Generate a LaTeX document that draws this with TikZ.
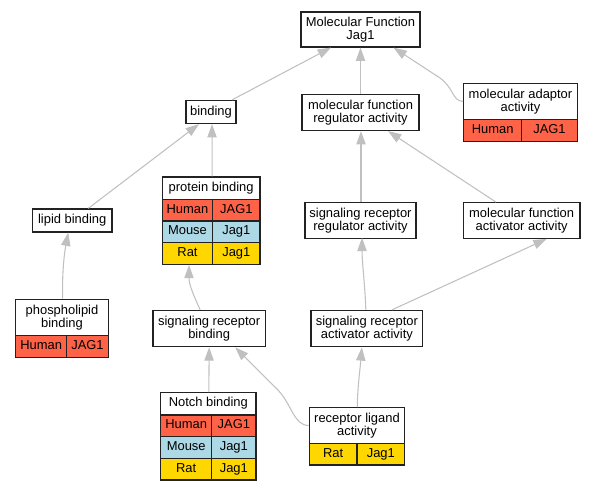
\documentclass[tikz,border=0pt]{standalone}
\usepackage{fontspec}
\setmainfont{Liberation Sans}
\usetikzlibrary{arrows.meta,calc}
\definecolor{hum}{HTML}{FF6347}
\definecolor{mou}{HTML}{ADD8E6}
\definecolor{rat}{HTML}{FFD700}
\definecolor{edgegray}{HTML}{C0C0C0}
\definecolor{bordc}{HTML}{222222}
\newcommand{\bx}[7]{\node[#6, minimum width={(#4-#2)*0.75pt}, minimum height={(#5-#3)*0.75pt}] (#1) at ({(#2+#4)/2},{(#3+#5)/2}) {#7};}
\tikzset{
  box/.style={draw=bordc, line width=0.9pt, fill=white, inner sep=0pt, align=center,
    font=\fontsize{9.7}{9.4}\selectfont},
  onebox/.style={box, text height=7pt, text depth=2.4pt},
  hcell/.style={onebox, fill=hum},
  mcell/.style={onebox, fill=mou},
  rcell/.style={onebox, fill=rat},
  edge/.style={draw=edgegray, line width=0.8pt, -{Triangle[length=10pt,width=7pt]}}
}
\begin{document}
\begin{tikzpicture}[x=0.75pt,y=-0.75pt]
\useasboundingbox (0,0) rectangle (595,491);
% plain boxes
\bx{mf}{301}{12}{420}{47}{box}{Molecular Function\\Jag1}
\bx{bind}{186}{100.5}{236}{123.5}{onebox}{binding}
\bx{mfr}{302}{94.5}{419}{130.5}{box}{molecular function\\regulator activity}
\bx{lip}{32.5}{209}{112}{232}{onebox}{lipid binding}
\bx{srr}{305}{202.7}{416}{238.3}{box}{signaling receptor\\regulator activity}
\bx{mfa}{463.3}{202.7}{580}{238.3}{box}{molecular function\\activator activity}
\bx{srb}{153}{310.5}{265.3}{346.7}{box}{signaling receptor\\binding}
\bx{sra}{311}{310.5}{422.7}{346.7}{box}{signaling receptor\\activator activity}
% molecular adaptor activity
\bx{ada}{463.7}{83.5}{577.3}{119.3}{box}{molecular adaptor\\activity}
\bx{adaH}{463.7}{119.3}{521.7}{141.3}{hcell}{Human}
\bx{adaG}{521.7}{119.3}{577.3}{141.3}{hcell}{JAG1}
% protein binding
\bx{pb}{162.3}{177}{260}{199.3}{onebox}{protein binding}
\bx{pbH}{162.3}{199.3}{212.7}{221}{hcell}{Human}
\bx{pbHg}{212.7}{199.3}{260}{221}{hcell}{JAG1}
\bx{pbM}{162.3}{221}{212.7}{242.7}{mcell}{Mouse}
\bx{pbMg}{212.7}{221}{260}{242.7}{mcell}{Jag1}
\bx{pbR}{162.3}{242.7}{212.7}{264.3}{rcell}{Rat}
\bx{pbRg}{212.7}{242.7}{260}{264.3}{rcell}{Jag1}
% phospholipid binding
\bx{pho}{15.7}{299.3}{108.3}{335.5}{box}{phospholipid\\binding}
\bx{phoH}{15.7}{335.5}{66.7}{357.3}{hcell}{Human}
\bx{phoG}{66.7}{335.5}{108.3}{357.3}{hcell}{JAG1}
% Notch binding
\bx{nb}{160.7}{392.7}{256}{415}{onebox}{Notch binding}
\bx{nbH}{160.7}{415}{211.7}{436.7}{hcell}{Human}
\bx{nbHg}{211.7}{415}{256}{436.7}{hcell}{JAG1}
\bx{nbM}{160.7}{436.7}{211.7}{458.7}{mcell}{Mouse}
\bx{nbMg}{211.7}{436.7}{256}{458.7}{mcell}{Jag1}
\bx{nbR}{160.7}{458.7}{211.7}{480}{rcell}{Rat}
\bx{nbRg}{211.7}{458.7}{256}{480}{rcell}{Jag1}
% receptor ligand activity
\bx{rl}{309.3}{407.7}{404.7}{443.3}{box}{receptor ligand\\activity}
\bx{rlR}{309.3}{443.3}{357}{465}{rcell}{Rat}
\bx{rlG}{357}{443.3}{404.7}{465}{rcell}{Jag1}
% edges
\draw[edge] ($(bind.north)+(21,0)$) -- ($(mf.south)+(-29.5,0)$);
\draw[edge] (mfr.north) -- (mf.south);
\draw[edge] (ada.west) .. controls (452,101) and (454,88) .. (440,78) -- ($(mf.south)+(33,0)$);
\draw[edge] ($(pb.north)+(1,0)$) -- ($(bind.south)+(1,0)$);
\draw[edge] ($(lip.north)+(16,0)$) -- ($(bind.south)+(-12,0)$);
\draw[edge] ($(pho.north)+(0.7,0)$) .. controls (62,275) and (64,255) .. ($(lip.south)+(-4,0)$);
\draw[edge] ($(srr.north)+(0.5,0)$) -- ($(mfr.south)+(0.5,0)$);
\draw[edge] ($(mfa.north)+(-25.7,0)$) -- ($(mfr.south)+(27.5,0)$);
\draw[edge] ($(srb.north)+(-9,0)$) .. controls (194,296) and (189,285) .. ($(pbR.south)+(1.5,0)$);
\draw[edge] ($(sra.north)+(-1,0)$) .. controls (365,285) and (362,262) .. ($(srr.north)+(1.5,35.6)$);
\draw[edge] ($(sra.north)+(25,0)$) -- ($(mfa.south)+(25,0)$);
\draw[edge] ($(nb.north)+(0.5,0)$) -- ($(srb.south)+(0,0)$);
\draw[edge] (rl.west) .. controls (294,425.5) and (292,405) .. (278,390) -- ($(srb.south)+(26,0)$);
\draw[edge] ($(rl.north)+(0.3,0)$) .. controls (357.3,390) and (360,370) .. ($(sra.south)+(-5,0)$);
\end{tikzpicture}
\end{document}
